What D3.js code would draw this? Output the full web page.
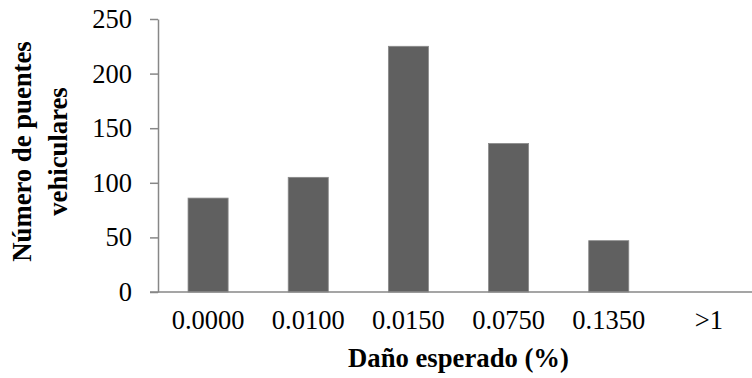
<!DOCTYPE html>
<html>
<head>
<meta charset="utf-8">
<script src="https://cdn.jsdelivr.net/npm/d3@7"></script>
<style>
  html, body { margin: 0; padding: 0; background: #fff; }
  svg { display: block; }
  text { font-family: "Liberation Serif", "Times New Roman", serif; fill: #000; }
</style>
</head>
<body>
<svg id="chart" width="752" height="378"></svg>
<script>
const categories = ["0.0000", "0.0100", "0.0150", "0.0750", "0.1350", ">1"];
const values = [86, 105, 225, 136, 47, 0];
const yTicks = [0, 50, 100, 150, 200, 250];
const xTitle = "Daño esperado (%)";
const yTitleLines = ["Número de puentes", "vehiculares"];

const svg = d3.select("#chart");
const mLeft = 158, mRight = 759, mTop = 19, mBottom = 292;

const x = d3.scaleBand().domain(categories).range([mLeft, mRight]).paddingInner(0.6).paddingOuter(0.3);
const y = d3.scaleLinear().domain([0, 250]).range([mBottom, mTop]);

// bars
svg.append("g").selectAll("rect").data(values).join("rect")
  .attr("x", (d, i) => x(categories[i]))
  .attr("y", d => y(d))
  .attr("width", x.bandwidth())
  .attr("height", d => y(0) - y(d))
  .attr("fill", "#606060")
  .attr("stroke", "#8a8a8a")
  .attr("stroke-width", 0.8);

// y axis
const yAxis = d3.axisLeft(y).tickValues(yTicks).tickSize(8).tickPadding(18).tickSizeOuter(0);
const gy = svg.append("g").attr("transform", `translate(${mLeft},0)`).call(yAxis);
gy.select(".domain").attr("stroke", "#878787").attr("stroke-width", 1.5);
gy.selectAll(".tick line").attr("stroke", "#878787").attr("stroke-width", 1.5);
gy.selectAll(".tick text").attr("font-size", 26.5).attr("font-family", "Liberation Serif").attr("fill", "#000");

// x axis
const xAxis = d3.axisBottom(x).tickSize(0).tickPadding(18).tickSizeOuter(0);
const gx = svg.append("g").attr("transform", `translate(0,${mBottom})`).call(xAxis);
gx.select(".domain").attr("stroke", "#878787").attr("stroke-width", 1.5)
  .attr("d", `M${mLeft - 8},0H${mRight}`);
gx.selectAll(".tick text").attr("font-size", 26.5).attr("font-family", "Liberation Serif").attr("fill", "#000");

// x title
svg.append("text")
  .attr("x", 458.5).attr("y", 367)
  .attr("text-anchor", "middle")
  .attr("font-size", 26.7).attr("font-weight", "bold")
  .text(xTitle);

// y title
const yt = svg.append("text")
  .attr("transform", "translate(0,151.5) rotate(-90)")
  .attr("text-anchor", "middle")
  .attr("font-size", 26.7).attr("font-weight", "bold");
yTitleLines.forEach((t, i) => {
  yt.append("tspan").attr("x", 0).attr("y", 31 + i * 36).text(t);
});
</script>
</body>
</html>
